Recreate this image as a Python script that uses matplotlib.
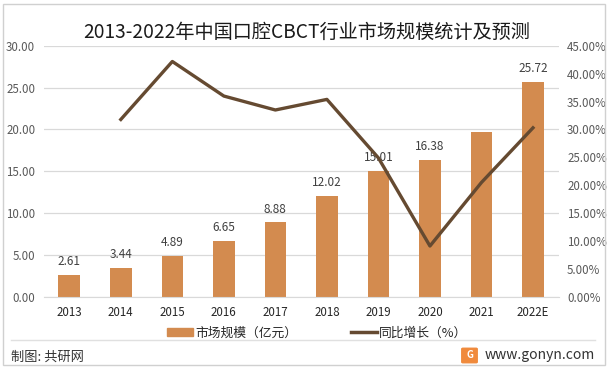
import numpy as np
import matplotlib.pyplot as plt
from matplotlib.patches import Rectangle, FancyBboxPatch
from matplotlib.lines import Line2D

plt.rcParams['font.family'] = ['Noto Sans CJK SC', 'DejaVu Sans']

years = ["2013", "2014", "2015", "2016", "2017", "2018", "2019", "2020", "2021", "2022E"]
market = [2.61, 3.44, 4.89, 6.65, 8.88, 12.02, 15.01, 16.38, 19.74, 25.72]
# 2021 has no label in the original
market_labels = ["2.61", "3.44", "4.89", "6.65", "8.88", "12.02", "15.01", "16.38", "", "25.72"]
growth = [np.nan, 31.8, 42.2, 36.0, 33.5, 35.4, 24.9, 9.1, 20.5, 30.3]

bar_color = "#D38B4F"
line_color = "#654A31"
txt = "#595959"

fig = plt.figure(figsize=(6.13, 3.70), dpi=100)
ax = fig.add_axes([0.071, 0.198, 0.8405, 0.678])
ax2 = ax.twinx()

x = np.arange(len(years))
ax.bar(x, market, width=0.42, color=bar_color, zorder=2)
for xi, v, lab in zip(x, market, market_labels):
    if lab:
        ax.annotate(lab, (xi, v), xytext=(0, 5), textcoords="offset points",
                    ha="center", va="bottom", fontsize=8.5, color="#404040")

ax2.plot(x, growth, color=line_color, lw=2.4, zorder=3)

ax.set_xlim(-0.5, len(years) - 0.5)
ax.set_ylim(0, 30)
ax2.set_ylim(0, 45)
ax.set_yticks(np.arange(0, 31, 5))
ax.set_yticklabels([f"{v:.2f}" for v in np.arange(0, 31, 5)])
ax2.set_yticks(np.arange(0, 46, 5))
ax2.set_yticklabels([f"{v:.2f}%" for v in np.arange(0, 46, 5)])
ax.set_xticks(x)
ax.set_xticklabels(years)

ax.grid(axis="y", color="#D9D9D9", lw=0.9, zorder=0)
ax.set_axisbelow(True)
for a in (ax, ax2):
    for s in a.spines.values():
        s.set_visible(False)
    a.tick_params(length=0, labelsize=8.3, colors=txt)
ax.spines["bottom"].set_visible(True)
ax.spines["bottom"].set_color("#D9D9D9")
ax.tick_params(axis="x", pad=7, labelcolor="#262626")
ax.tick_params(axis="y", pad=6)
ax2.tick_params(axis="y", pad=6)

fig.text(0.5, 0.913, "2013-2022年中国口腔CBCT行业市场规模统计及预测",
         ha="center", va="center", fontsize=13.8, color="#1a1a1a")

# legend
handles = [Rectangle((0, 0), 1, 1, color=bar_color),
           Line2D([0], [0], color=line_color, lw=2.5)]
fig.legend(handles, ["市场规模（亿元）", "同比增长（%）"], loc="center",
           bbox_to_anchor=(0.518, 0.1), ncol=2, frameon=False, fontsize=9.2,
           handlelength=2.0, handleheight=0.5, columnspacing=4.2,
           handletextpad=0.2, labelcolor="#262626")

# footer
fig.add_artist(Line2D([11 / 613, 595 / 613], [1 - 340 / 370] * 2,
                      color="#E0E0E0", lw=1, transform=fig.transFigure))
fig.text(11 / 613, 1 - 357 / 370, "制图: 共研网", ha="left", va="center",
         fontsize=9.5, color="#333333")
fig.text(485 / 613, 1 - 355 / 370, "www.gonyn.com", ha="left", va="center",
         fontsize=10, color="#333333")
fig.add_artist(FancyBboxPatch((463 / 613, 1 - 362 / 370), 13 / 613, 13 / 370,
                              boxstyle="round,pad=0.002", color="#F08A3C",
                              transform=fig.transFigure))
fig.text(469.5 / 613, 1 - 355.5 / 370, "G", ha="center", va="center",
         fontsize=7, color="white", weight="bold")

# outer border
fig.add_artist(Rectangle((3 / 613, 1 - 365 / 370), 602 / 613, 361 / 370,
                         fill=False, ec="#D0D0D0", lw=1, transform=fig.transFigure))

fig.savefig("out.png", dpi=100)
